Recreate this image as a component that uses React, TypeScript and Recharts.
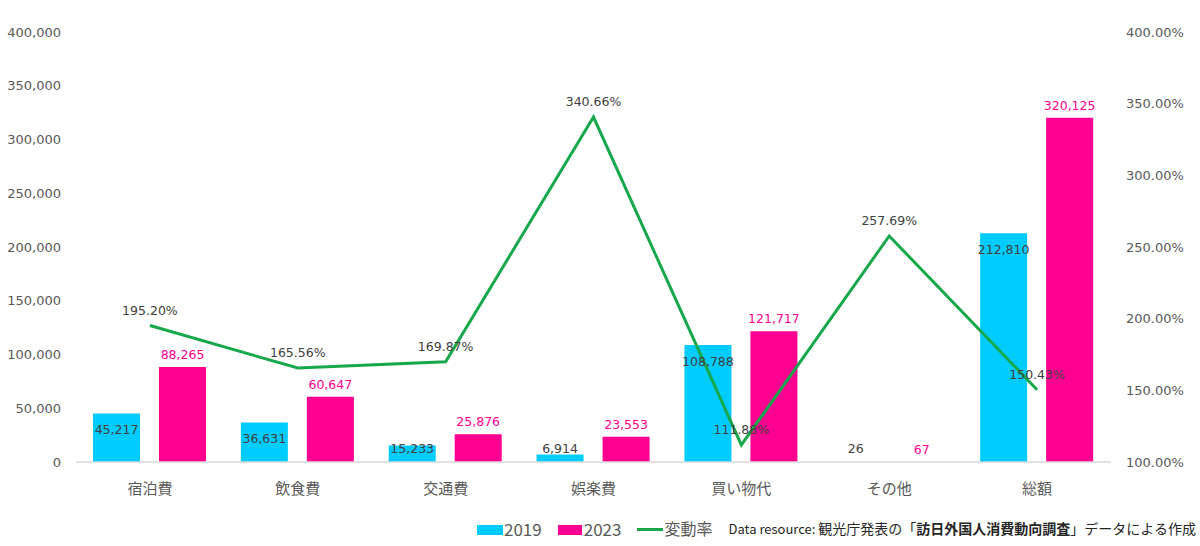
import React from 'react';
import {
  ComposedChart,
  Bar,
  Line,
  XAxis,
  YAxis,
  Legend,
  LabelList,
} from 'recharts';

const categories = ['宿泊費', '飲食費', '交通費', '娯楽費', '買い物代', 'その他', '総額'];
const values2019 = [45217, 36631, 15233, 6914, 108788, 26, 212810];
const values2023 = [88265, 60647, 25876, 23553, 121717, 67, 320125];
const changeRate = [195.2, 165.56, 169.87, 340.66, 111.88, 257.69, 150.43];

const leftTicks = [0, 50000, 100000, 150000, 200000, 250000, 300000, 350000, 400000];
const rightTicks = [100, 150, 200, 250, 300, 350, 400];

const data = categories.map((name, i) => ({
  name,
  y2019: values2019[i],
  y2023: values2023[i],
  rate: changeRate[i],
}));

const CYAN = '#00CCFF';
const PINK = '#FF0090';
const GREEN = '#17A84B';
const LABEL = '#404040';
const AXIS_TEXT = '#595959';

const fmtNum = (v: number) => v.toLocaleString('en-US');
const fmtPct = (v: number) => `${v.toFixed(2)}%`;

const Label2019 = (props: any) => {
  const { x, y, width, value } = props;
  const cy = Math.min(Number(y) + 16, 448);
  return (
    <text
      x={Number(x) + Number(width) / 2}
      y={cy}
      textAnchor="middle"
      dominantBaseline="central"
      fill={LABEL}
      fontSize={12.5}
      fontFamily="DejaVu Sans"
    >
      {fmtNum(Number(value))}
    </text>
  );
};

const renderLegend = () => (
  <div
    style={{
      display: 'flex',
      alignItems: 'center',
      height: 24,
      paddingLeft: 477,
      fontFamily: '"Noto Sans CJK JP", sans-serif',
      color: AXIS_TEXT,
      whiteSpace: 'nowrap',
      boxSizing: 'border-box',
    }}
  >
    <span style={{ display: 'inline-block', width: 26, height: 10, background: CYAN, marginTop: 4 }} />
    <span style={{ fontSize: 17, marginLeft: 1 }}>2019</span>
    <span style={{ display: 'inline-block', width: 24, height: 10, background: PINK, marginLeft: 16, marginTop: 4 }} />
    <span style={{ fontSize: 17, marginLeft: 2 }}>2023</span>
    <span style={{ display: 'inline-block', width: 26, height: 3, background: GREEN, marginLeft: 15, marginTop: 3 }} />
    <span style={{ fontSize: 16, marginLeft: 2 }}>変動率</span>
    <span style={{ fontSize: 14, marginLeft: 16, color: '#262626' }}>
      <span style={{ fontSize: 13 }}>Data resource: </span>
      観光庁発表の「<b>訪日外国人消費動向調査</b>」データによる作成
    </span>
  </div>
);

export default function App() {
  return (
    <div style={{ position: 'absolute', left: 0, top: 0, width: 1200, height: 546, background: '#fff' }}>
      <ComposedChart
        width={1200}
        height={546}
        data={data}
        margin={{ top: 32, right: 9, bottom: 6, left: 8 }}
        barGap={19}
        style={{ fontFamily: 'DejaVu Sans' }}
      >
        <XAxis
          dataKey="name"
          axisLine={{ stroke: '#D9D9D9', strokeWidth: 1.5 }}
          tickLine={false}
          tickSize={0}
          tickMargin={21}
          height={54}
          interval={0}
          tick={{ fill: AXIS_TEXT, fontSize: 15, fontFamily: '"Noto Sans CJK JP", sans-serif' }}
        />
        <YAxis
          yAxisId="left"
          orientation="left"
          width={68}
          domain={[0, 400000]}
          ticks={leftTicks}
          tickFormatter={fmtNum}
          axisLine={false}
          tickLine={false}
          tickSize={0}
          tickMargin={15}
          tick={{ fill: AXIS_TEXT, fontSize: 13 }}
          interval={0}
        />
        <YAxis
          yAxisId="right"
          orientation="right"
          width={80}
          domain={[100, 400]}
          ticks={rightTicks}
          tickFormatter={fmtPct}
          axisLine={false}
          tickLine={false}
          tickSize={0}
          tickMargin={15}
          tick={{ fill: AXIS_TEXT, fontSize: 13 }}
          interval={0}
        />
        <Bar yAxisId="left" dataKey="y2019" name="2019" fill={CYAN} barSize={47} isAnimationActive={false}>
          <LabelList dataKey="y2019" content={Label2019} />
        </Bar>
        <Bar yAxisId="left" dataKey="y2023" name="2023" fill={PINK} barSize={47} isAnimationActive={false}>
          <LabelList
            dataKey="y2023"
            position="top"
            offset={8}
            formatter={(v: any) => fmtNum(Number(v))}
            fill={PINK}
            fontSize={12.5}
          />
        </Bar>
        <Line
          yAxisId="right"
          dataKey="rate"
          name="変動率"
          type="linear"
          stroke={GREEN}
          strokeWidth={3}
          dot={false}
          activeDot={false}
          isAnimationActive={false}
        >
          <LabelList
            dataKey="rate"
            position="top"
            offset={11}
            formatter={(v: any) => fmtPct(Number(v))}
            fill={LABEL}
            fontSize={12.5}
          />
        </Line>
        <Legend
          verticalAlign="bottom"
          content={renderLegend}
          wrapperStyle={{ left: 0, width: 1200, height: 24 }}
        />
      </ComposedChart>
    </div>
  );
}
